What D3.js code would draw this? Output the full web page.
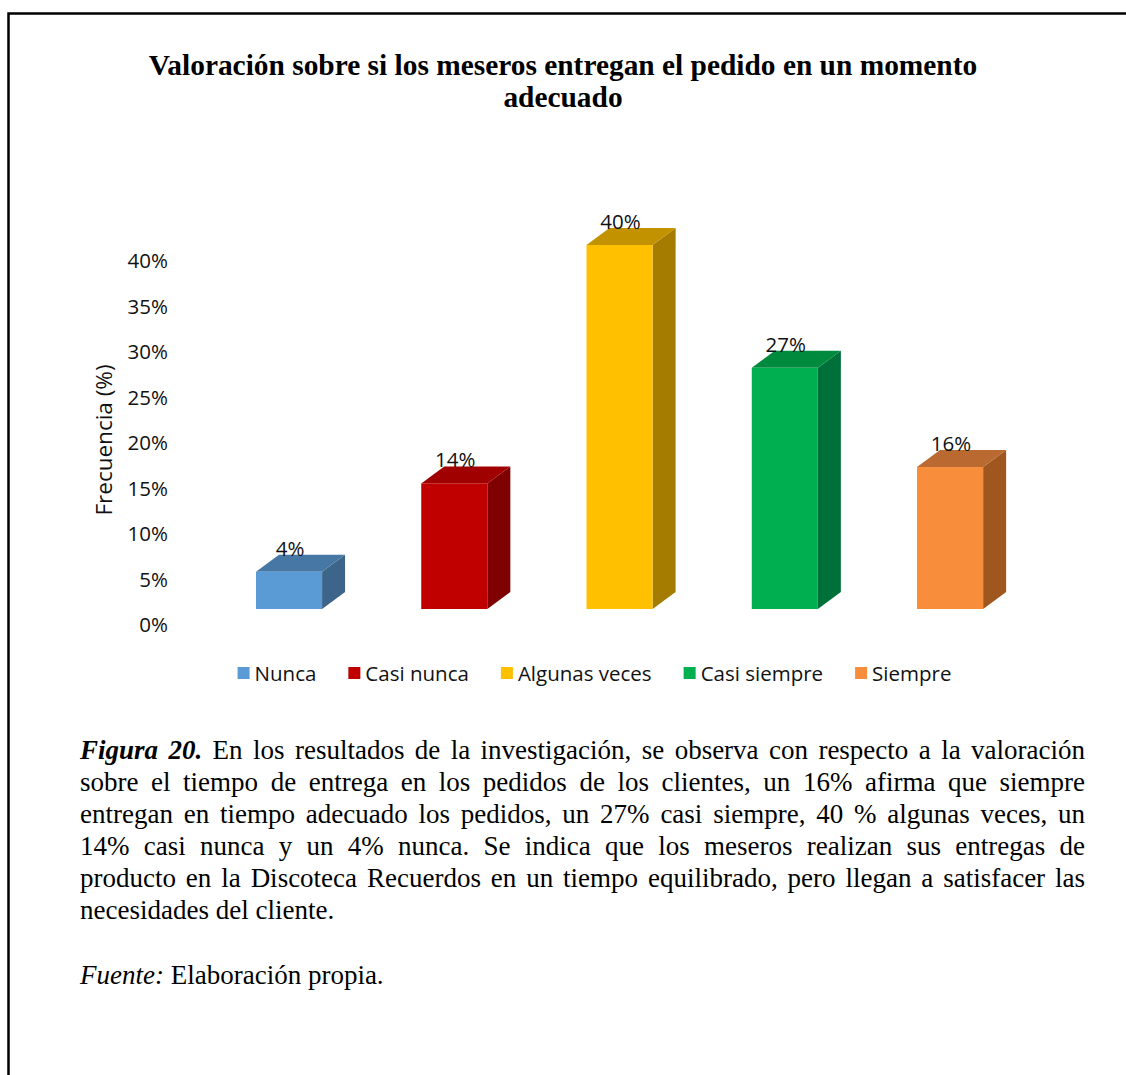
<!DOCTYPE html>
<html>
<head>
<meta charset="utf-8">
<script src="https://cdn.jsdelivr.net/npm/d3@7"></script>
<style>
  body { margin: 0; background: #fff; }
  svg { display: block; }
</style>
</head>
<body>
<svg id="chart" width="1126" height="1075"></svg>
<script>
// data
const categories = ['Nunca', 'Casi nunca', 'Algunas veces', 'Casi siempre', 'Siempre'];
const values = [4.1, 13.8, 40.0, 26.5, 15.6];
const yTicks = [0, 5, 10, 15, 20, 25, 30, 35, 40];
const frontColors = ['#5b9bd5', '#c00000', '#ffc000', '#00b050', '#f88d3c'];
const topColors = ['#4677a5', '#a00000', '#c29200', '#008a3e', '#ba6a30'];
const sideColors = ['#3d6589', '#7f0000', '#a57c00', '#00703a', '#a0561f'];

const titleLines = ['Valoración sobre si los meseros entregan el pedido en un momento', 'adecuado'];
const captionLines = [
  'Figura 20. En los resultados de la investigación, se observa con respecto a la valoración',
  'sobre el tiempo de entrega en los pedidos de los clientes, un 16% afirma que siempre',
  'entregan en tiempo adecuado los pedidos, un 27% casi siempre, 40 % algunas veces, un',
  '14% casi nunca y un 4% nunca. Se indica que los meseros realizan sus entregas de',
  'producto en la Discoteca Recuerdos en un tiempo equilibrado, pero llegan a satisfacer las',
  'necesidades del cliente.'
];

let svg = d3.select('#chart');
const sansFont = '"Open Sans", "Noto Sans", sans-serif';
const serifFont = '"Liberation Serif", "Times New Roman", serif';

// frame (left + top border only)
svg.append('path')
  .attr('d', 'M8.5,1075 V13.5 H1126')
  .attr('fill', 'none')
  .attr('stroke', '#000')
  .attr('stroke-width', 2.5);

// title
svg.append('g').selectAll('text')
  .data(titleLines)
  .enter()
  .append('text')
    .attr('x', 563)
    .attr('y', (d, i) => 75 + i * 32)
    .attr('text-anchor', 'middle')
    .style('font-family', serifFont)
    .style('font-weight', 'bold')
    .style('font-size', '29.4px')
    .text(d => d);

// scales
let x = d3.scaleBand()
  .domain(categories)
  .range([206.4, 1032.7])
  .paddingInner(0.6)
  .paddingOuter(0.3);
let y = d3.scaleLinear().domain([0, 40]).range([625, 261]);
const lift = 16;      // front face sits above the axis floor
const dx = 23, dy = -17; // 3d depth offset

// y axis
let yAxis = svg.append('g')
  .attr('transform', 'translate(172,0)')
  .call(d3.axisLeft(y).tickValues(yTicks).tickFormat(d => d + '%').tickSize(0).tickPadding(4));
yAxis.select('.domain').remove();
yAxis.selectAll('text')
  .style('font-family', sansFont)
  .style('font-size', '20.5px')
  .attr('fill', '#111');

svg.append('text')
  .attr('transform', 'translate(112,440) rotate(-90)')
  .attr('text-anchor', 'middle')
  .style('font-family', sansFont)
  .style('font-size', '22.5px')
  .attr('fill', '#111')
  .text('Frecuencia (%)');

// bars
let bars = categories.map((c, i) => {
  let x0 = x(c);
  let w = x.bandwidth();
  let yt = y(values[i]) - lift;
  let yb = y(0) - lift;
  return {c, i, x0, w, yt, yb};
});

let barG = svg.append('g');
barG.selectAll('.side')
  .data(bars)
  .enter()
  .append('path')
    .attr('class', 'side')
    .attr('d', d => `M${d.x0 + d.w},${d.yt} L${d.x0 + d.w + dx},${d.yt + dy} L${d.x0 + d.w + dx},${d.yb + dy} L${d.x0 + d.w},${d.yb} Z`)
    .attr('fill', d => sideColors[d.i]);

barG.selectAll('.top')
  .data(bars)
  .enter()
  .append('path')
    .attr('class', 'top')
    .attr('d', d => `M${d.x0},${d.yt} L${d.x0 + dx},${d.yt + dy} L${d.x0 + d.w + dx},${d.yt + dy} L${d.x0 + d.w},${d.yt} Z`)
    .attr('fill', d => topColors[d.i]);

barG.selectAll('.front')
  .data(bars)
  .enter()
  .append('rect')
    .attr('class', 'front')
    .attr('x', d => d.x0)
    .attr('y', d => d.yt)
    .attr('width', d => d.w)
    .attr('height', d => d.yb - d.yt)
    .attr('fill', d => frontColors[d.i]);

// value labels
barG.selectAll('.label')
  .data(bars)
  .enter()
  .append('text')
    .attr('class', 'label')
    .attr('x', d => d.x0 + d.w / 2 + 1)
    .attr('y', d => d.yt + dy + 1)
    .attr('text-anchor', 'middle')
    .style('font-family', sansFont)
    .style('font-size', '20.5px')
    .attr('fill', '#111')
    .text(d => Math.round(values[d.i]) + '%');

// legend
let legend = svg.append('g');
let lx = 0;
categories.forEach((c, i) => {
  let item = legend.append('g').attr('transform', `translate(${lx},0)`);
  item.append('rect')
    .attr('x', 0).attr('y', -6)
    .attr('width', 12).attr('height', 12)
    .attr('fill', frontColors[i]);
  let t = item.append('text')
    .attr('x', 17)
    .attr('y', 7.5)
    .style('font-family', sansFont)
    .style('font-size', '20.5px')
    .attr('fill', '#111')
    .text(c);
  lx += 17 + t.node().getComputedTextLength() + 32;
});
let legendWidth = lx - 32;
legend.attr('transform', `translate(${594.5 - legendWidth / 2},673)`);

// caption, justified word by word
const capLeft = 80, capRight = 1085, capTop = 759, capLead = 32;
let cap = svg.append('g')
  .style('font-family', serifFont)
  .style('font-size', '27px');

captionLines.forEach((line, li) => {
  let words = line.split(' ');
  let nodes = words.map((w, wi) => {
    let t = cap.append('text').attr('y', capTop + li * capLead).text(w);
    if (li === 0 && wi < 2) {
      t.style('font-weight', 'bold').style('font-style', 'italic');
    }
    return t;
  });
  let widths = nodes.map(n => n.node().getComputedTextLength());
  let total = d3.sum(widths);
  let last = li === captionLines.length - 1;
  let gap = last ? 6.75 : (capRight - capLeft - total) / (words.length - 1);
  let cx = capLeft;
  nodes.forEach((n, k) => {
    n.attr('x', cx);
    cx += widths[k] + gap;
  });
});

// source line
let src = svg.append('text')
  .attr('x', capLeft)
  .attr('y', 984)
  .style('font-family', serifFont)
  .style('font-size', '27px');
src.append('tspan').style('font-style', 'italic').text('Fuente:');
src.append('tspan').text(' Elaboración propia.');
</script>
</body>
</html>
